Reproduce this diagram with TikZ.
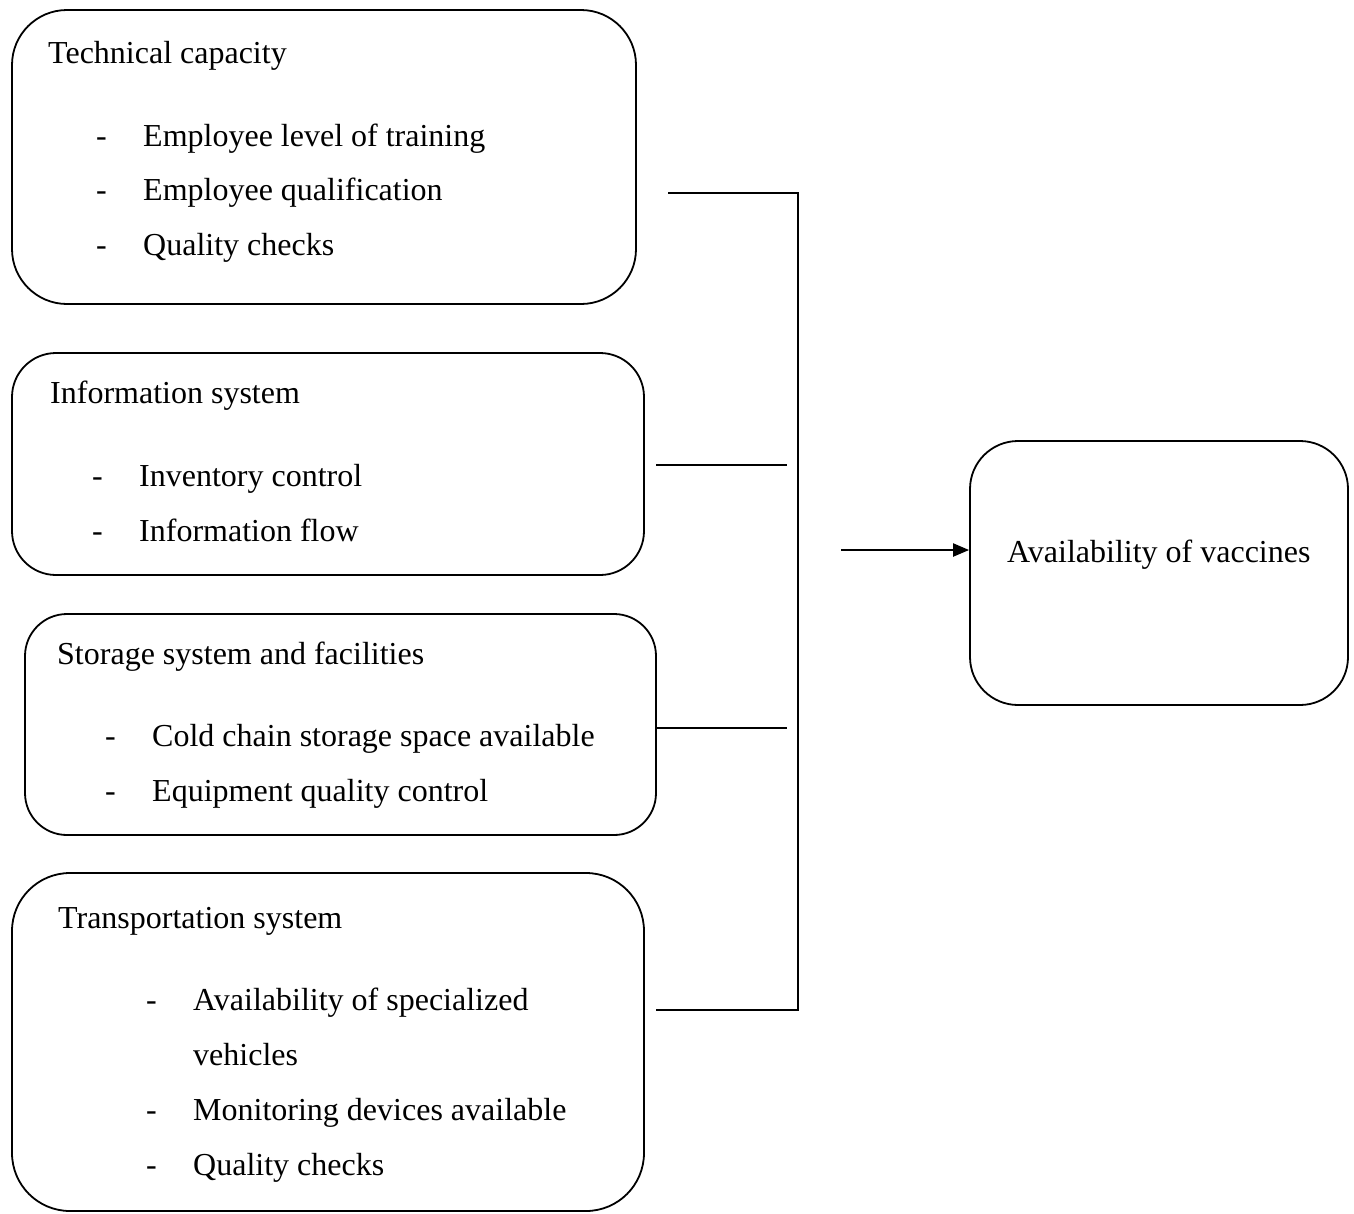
\documentclass[tikz,border=0pt]{standalone}
\usepackage{fontspec}
\setmainfont{Liberation Serif}
\usetikzlibrary{arrows.meta}
\begin{document}
\begin{tikzpicture}[x=1pt,y=-1pt,
  box/.style={draw=black, line width=1.8pt, rounded corners=#1, inner sep=0pt},
  txt/.style={anchor=base west, inner sep=0pt, font=\fontsize{32}{38}\selectfont},
  conn/.style={draw=black, line width=1.8pt},
  arr/.style={draw=black, line width=2.2pt, -{Triangle[length=16pt,width=13pt]}}]
\useasboundingbox (0,0) rectangle (1354,1213);
% boxes
\node[box=55pt, minimum width=624pt, minimum height=294pt] (tc) at (324,157) {};
\node[box=44pt, minimum width=632pt, minimum height=222pt] (is) at (328,464) {};
\node[box=42pt, minimum width=631pt, minimum height=221pt] (ss) at (340.5,724.5) {};
\node[box=58pt, minimum width=632pt, minimum height=338pt] (ts) at (328,1042) {};
\node[box=48pt, minimum width=378pt, minimum height=264pt] (av) at (1159,573) {};
% texts: technical capacity
\node[txt] (tct) at (48,63) {Technical capacity};
\node[txt] (tcd1) at (96,146) {-};
\node[txt] (tc1) at (143,146) {Employee level of training};
\node[txt] (tcd2) at (96,200) {-};
\node[txt] (tc2) at (143,200) {Employee qualification};
\node[txt] (tcd3) at (96,255) {-};
\node[txt] (tc3) at (143,255) {Quality checks};
% information system
\node[txt] (ist) at (50,403) {Information system};
\node[txt] (isd1) at (92,486) {-};
\node[txt] (is1) at (139,486) {Inventory control};
\node[txt] (isd2) at (92,541) {-};
\node[txt] (is2) at (139,541) {Information flow};
% storage
\node[txt] (sst) at (57,664) {Storage system and facilities};
\node[txt] (ssd1) at (105,746) {-};
\node[txt] (ss1) at (152,746) {Cold chain storage space available};
\node[txt] (ssd2) at (105,801) {-};
\node[txt] (ss2) at (152,801) {Equipment quality control};
% transportation
\node[txt] (tst) at (58,928) {Transportation system};
\node[txt] (tsd1) at (146,1010) {-};
\node[txt] (ts1) at (193,1010) {Availability of specialized};
\node[txt] (ts1b) at (193,1065) {vehicles};
\node[txt] (tsd2) at (146,1120) {-};
\node[txt] (ts2) at (193,1120) {Monitoring devices available};
\node[txt] (tsd3) at (146,1175) {-};
\node[txt] (ts3) at (193,1175) {Quality checks};
% availability
\node[txt] (avt) at (1007,562) {Availability of vaccines};
% connector coordinates
\coordinate (c1s) at (668,193);
\coordinate (c1e) at (798,193);
\coordinate (c2s) at (656,465);
\coordinate (c2e) at (787,465);
\coordinate (c3s) at (656,728);
\coordinate (c3e) at (787,728);
\coordinate (c4s) at (656,1010);
\coordinate (c4e) at (798,1010);
\coordinate (as) at (841,550);
% connectors
\draw[conn] (c1s) -- (c1e) -- (c4e) -- (c4s);
\draw[conn] (c2s) -- (c2e);
\draw[conn] (c3s) -- (c3e);
\draw[arr] (as) -- (as -| av.west);
\end{tikzpicture}
\end{document}
